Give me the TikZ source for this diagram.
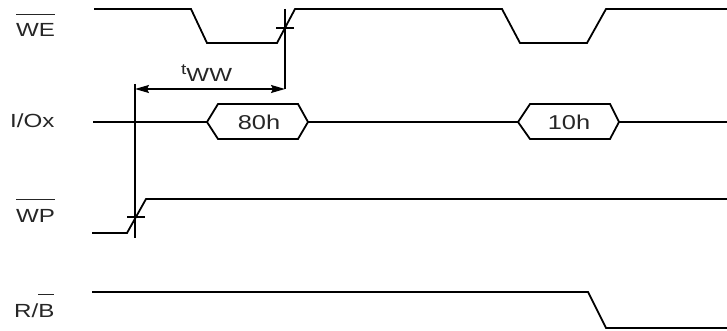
\documentclass[tikz,border=0pt]{standalone}
\usepackage{fontspec}
\setmainfont{Liberation Sans}[FakeStretch=1.27]
\usetikzlibrary{arrows.meta}
\newcommand\ovl[1]{\vbox{\hrule height 1.6pt\kern 8.5pt\hbox{#1}}}
\begin{document}
\begin{tikzpicture}[x=1pt,y=-1pt,
  sig/.style={line width=1.8pt,line join=miter},
  tmark/.style={line width=1.5pt},
  lbl/.style={inner sep=0pt,text=black!85,font=\fontsize{19}{22}\selectfont},
  busval/.style={inner sep=0pt,text=black!85,font=\fontsize{20}{24}\selectfont}]
\useasboundingbox (0,0) rectangle (727,331);
% labels
\node[lbl,anchor=base west] (we) at (16,37) {\ovl{WE}};
\node[lbl,anchor=base west] (io) at (10,128) {I/Ox};
\node[lbl,anchor=base west] (wp) at (16,222) {\ovl{WP}};
\node[lbl,anchor=base west] (rb) at (14,317) {R/\ovl{B}};
% WE
\draw[sig] (94,9) -- (191,9) -- (207,43) -- (277,43) -- (295,9) -- (502,9) -- (520,43) -- (587,43) -- (606,9) -- (727,9);
% I/Ox
\draw[sig] (93,122) -- (207,122);
\draw[sig] (207,122) -- (218,104) -- (298,104) -- (308,122) -- (298,139) -- (218,139) -- cycle;
\node[busval] (b80) at (259,122) {80h};
\draw[sig] (308,122) -- (518,122);
\draw[sig] (518,122) -- (530,104) -- (610,104) -- (619,122) -- (610,139) -- (530,139) -- cycle;
\node[busval] (b10) at (569,122) {10h};
\draw[sig] (619,122) -- (727,122);
% WP
\draw[sig] (92,233) -- (127,233) -- (146,199) -- (727,199);
% R/B
\draw[sig] (92,292) -- (588,292) -- (606,328) -- (727,328);
% timing markers
\coordinate (wetop) at (285,9);
\coordinate (webot) at (285,89);
\coordinate (wptop) at (135,84);
\coordinate (wpbot) at (135,238);
\draw[tmark] (wetop) -- (webot);
\draw[tmark] (276,28) -- (294,28);
\draw[tmark] (wptop) -- (wpbot);
\draw[tmark] (127,217) -- (145,217);
\coordinate (al) at (135,89);
\coordinate (ar) at (285,89);
\draw[tmark,{Stealth[length=14pt,width=8pt,inset=2pt]}-{Stealth[length=14pt,width=8pt,inset=2pt]}] (al) -- (ar);
\node[lbl,anchor=base west] (tww) at (181,82) {\raisebox{7pt}{\fontsize{15}{18}\selectfont t}WW};
\end{tikzpicture}
\end{document}
